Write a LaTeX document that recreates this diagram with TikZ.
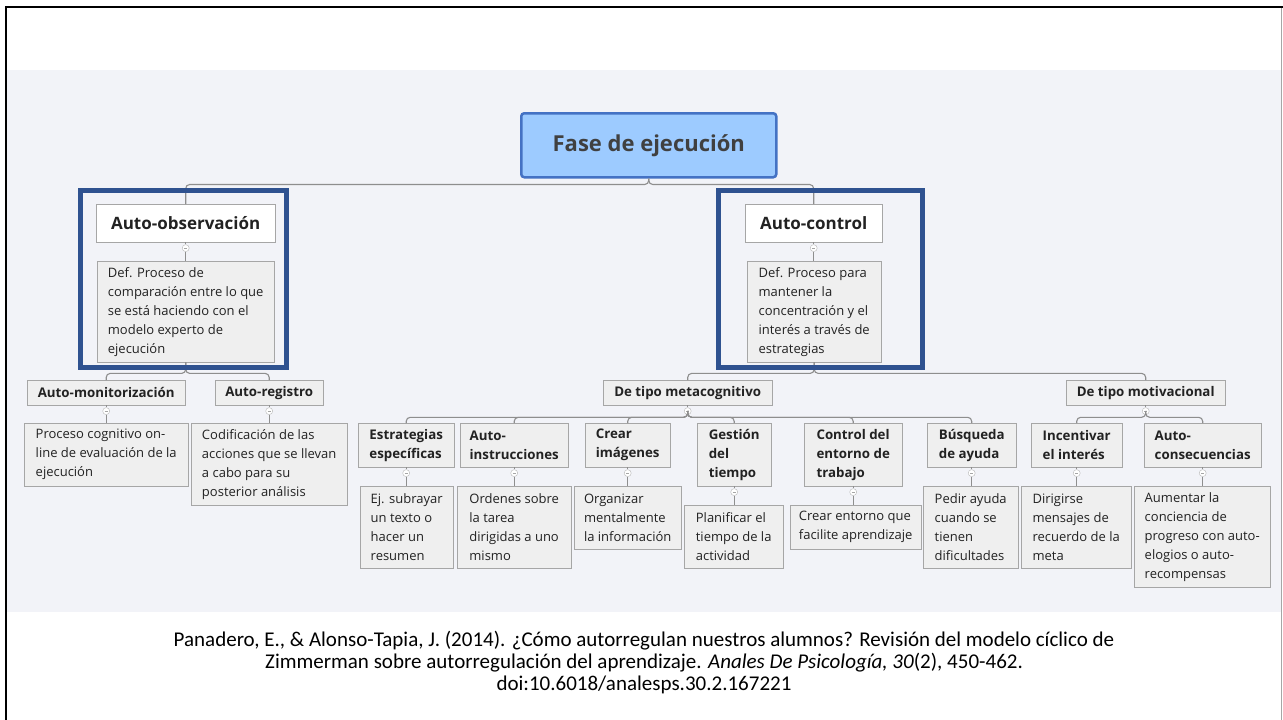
\documentclass[tikz,border=0pt]{standalone}
\usepackage{fontspec}
\setmainfont{Open Sans}
\newfontfamily\reffont{Carlito}
\usetikzlibrary{positioning}

\definecolor{bandgray}{HTML}{F2F3F8}
\definecolor{boxgray}{HTML}{A6A6A6}
\definecolor{boxfill}{HTML}{EFEFEF}
\definecolor{linegray}{HTML}{8E8E8E}
\definecolor{rootfill}{HTML}{9DCBFF}
\definecolor{rootblue}{HTML}{4472C4}
\definecolor{rootink}{HTML}{404040}
\definecolor{markblue}{HTML}{2F5290}
\definecolor{inkgray}{HTML}{222222}

\newcommand{\rootfont}{\fontsize{22}{26}\selectfont\bfseries}
\newcommand{\topicfont}{\fontsize{17}{20}\selectfont\bfseries}
\newcommand{\headfont}{\fontsize{13.3}{19}\selectfont\bfseries}
\newcommand{\leaffont}{\fontsize{13}{19}\selectfont}

\tikzset{
  root/.style={draw=rootblue, line width=2.5pt, fill=rootfill, rounded corners=3pt,
    text=rootink, font=\rootfont, anchor=north west, minimum width=255pt, minimum height=64pt},
  topic/.style={draw=boxgray, fill=white, text=inkgray, font=\topicfont,
    anchor=north west, minimum height=38pt, inner sep=0pt},
  head/.style={draw=boxgray, fill=boxfill, text=inkgray, font=\headfont,
    anchor=north west, minimum height=25pt, inner sep=0pt},
  sub/.style={head, align=left},
  leaf/.style={draw=boxgray, fill=boxfill, text=inkgray, font=\leaffont,
    anchor=north west, align=left, inner sep=0pt},
  knob/.style={circle, draw=boxgray!80, fill=white, inner sep=0pt, minimum size=7pt,
    path picture={\draw[boxgray, line width=0.6pt]
      ([xshift=-1.6pt]path picture bounding box.center) --
      ([xshift=1.6pt]path picture bounding box.center);}},
  conn/.style={draw=linegray, line width=1.1pt, rounded corners=4pt},
  hilite/.style={draw=markblue, line width=5pt}
}

\begin{document}
\begin{tikzpicture}[x=1pt, y=-1pt]
\useasboundingbox (0,0) rectangle (1283,720);
\fill[white] (0,0) rectangle (1283,720);
\fill[bandgray] (7,70) rectangle (1281,612);
\draw[line width=2.4pt] (5.8,720) -- (5.8,6.9) -- (1283,6.9);
\draw[gray!70, line width=1pt] (1281.5,8) -- (1281.5,720);

\node[root] (root) at (520,112) {Fase de ejecución};

% Auto-observacion
\node[topic, minimum width=179pt] (aobs) at (96,204) {Auto-observación};
\node[knob, below=2pt of aobs] (kaobs) {};
\node[leaf, minimum width=177pt, minimum height=101pt] (defobs) at (97,261) {Def. Proceso de\\comparación entre lo que\\se está haciendo con el\\modelo experto de\\ejecución};

\node[head, minimum width=158pt] (amon) at (27,380) {Auto-monitorización};
\node[head, minimum width=108pt] (areg) at (215,380) {Auto-registro};
\node[knob, below=2pt of amon] (kamon) {};
\node[knob, below=2pt of areg] (kareg) {};
\node[leaf, minimum width=164pt, minimum height=63pt] (procog) at (24,423) {Proceso cognitivo on-\\line de evaluación de la\\ejecución};
\node[leaf, minimum width=156pt, minimum height=82pt] (codif) at (191,423) {Codificación de las\\acciones que se llevan\\a cabo para su\\posterior análisis};

% Auto-control
\node[topic, minimum width=137pt] (actl) at (745,204) {Auto-control};
\node[knob, below=2pt of actl] (kactl) {};
\node[leaf, minimum width=134pt, minimum height=101pt] (defctl) at (747,261) {Def. Proceso para\\mantener la\\concentración y el\\interés a través de\\estrategias};

\node[head, minimum width=169pt] (meta) at (603,380) {De tipo metacognitivo};
\node[head, minimum width=159pt] (motiv) at (1066,380) {De tipo motivacional};
\node[knob, below=2pt of meta] (kmeta) {};
\node[knob, below=2pt of motiv] (kmotiv) {};

\node[sub, minimum width=96pt, minimum height=44pt] (estr) at (358,423) {Estrategias\\específicas};
\node[sub, minimum width=108pt, minimum height=44pt] (ainst) at (460,423) {Auto-\\instrucciones};
\node[sub, minimum width=85pt, minimum height=44pt] (cimg) at (585,423) {Crear\\imágenes};
\node[sub, minimum width=74pt, minimum height=63pt] (gtie) at (697,423) {Gestión\\del\\tiempo};
\node[sub, minimum width=98pt, minimum height=63pt] (cent) at (804,423) {Control del\\entorno de\\trabajo};
\node[sub, minimum width=89pt, minimum height=44pt] (busq) at (927,423) {Búsqueda\\de ayuda};
\node[sub, minimum width=91pt, minimum height=44pt] (incv) at (1031,423) {Incentivar\\el interés};
\node[sub, minimum width=117pt, minimum height=44pt] (acon) at (1144,423) {Auto-\\consecuencias};

\node[knob, below=2pt of estr] (kestr) {};
\node[knob, below=2pt of ainst] (kainst) {};
\node[knob, below=2pt of cimg] (kcimg) {};
\node[knob, below=2pt of gtie] (kgtie) {};
\node[knob, below=2pt of cent] (kcent) {};
\node[knob, below=2pt of busq] (kbusq) {};
\node[knob, below=2pt of incv] (kincv) {};
\node[knob, below=2pt of acon] (kacon) {};

\node[leaf, minimum width=93pt, minimum height=82pt] (ejsub) at (360,486) {Ej. subrayar\\un texto o\\hacer un\\resumen};
\node[leaf, minimum width=114pt, minimum height=82pt] (orde) at (457,486) {Ordenes sobre\\la tarea\\dirigidas a uno\\mismo};
\node[leaf, minimum width=107pt, minimum height=63pt] (orga) at (574,486) {Organizar\\mentalmente\\la información};
\node[leaf, minimum width=99pt, minimum height=63pt] (plan) at (684,505) {Planificar el\\tiempo de la\\actividad};
\node[leaf, minimum width=131pt, minimum height=44pt] (crea) at (790,505) {Crear entorno que\\facilite aprendizaje};
\node[leaf, minimum width=95pt, minimum height=82pt] (pedi) at (923,486) {Pedir ayuda\\cuando se\\tienen\\dificultades};
\node[leaf, minimum width=110pt, minimum height=82pt] (diri) at (1021,486) {Dirigirse\\mensajes de\\recuerdo de la\\meta};
\node[leaf, minimum width=136pt, minimum height=101pt] (aume) at (1134,486) {Aumentar la\\conciencia de\\progreso con auto-\\elogios o auto-\\recompensas};

% connectors
\draw[conn] (root.south) -- ++(0,6) -| (aobs.north);
\draw[conn] (root.south) -- ++(0,6) -| (actl.north);
\draw[conn] (aobs) -- (kaobs) -- (kaobs |- defobs.north);
\draw[conn] (actl) -- (kactl) -- (kactl |- defctl.north);
\draw[conn] (defobs.south) -- ++(0,11) -| (amon.north);
\draw[conn] (defobs.south) -- ++(0,11) -| (areg.north);
\draw[conn] (amon) -- (kamon) -- (kamon |- procog.north);
\draw[conn] (areg) -- (kareg) -- (kareg |- codif.north);
\draw[conn] (defctl.south) -- ++(0,11) -| (meta.north);
\draw[conn] (defctl.south) -- ++(0,11) -| (motiv.north);
\draw[conn] (meta) -- (kmeta);
\draw[conn] (motiv) -- (kmotiv);
\draw[conn] (kmeta.south) -- ++(0,2.5) -| (estr.north);
\draw[conn] (kmeta.south) -- ++(0,2.5) -| (ainst.north);
\draw[conn] (kmeta.south) -- ++(0,2.5) -| (cimg.north);
\draw[conn] (kmeta.south) -- ++(0,2.5) -| (gtie.north);
\draw[conn] (kmeta.south) -- ++(0,2.5) -| (cent.north);
\draw[conn] (kmeta.south) -- ++(0,2.5) -| (busq.north);
\draw[conn] (kmotiv.south) -- ++(0,2.5) -| (incv.north);
\draw[conn] (kmotiv.south) -- ++(0,2.5) -| (acon.north);
\draw[conn] (estr) -- (kestr) -- (kestr |- ejsub.north);
\draw[conn] (ainst) -- (kainst) -- (kainst |- orde.north);
\draw[conn] (cimg) -- (kcimg) -- (kcimg |- orga.north);
\draw[conn] (gtie) -- (kgtie) -- (kgtie |- plan.north);
\draw[conn] (cent) -- (kcent) -- (kcent |- crea.north);
\draw[conn] (busq) -- (kbusq) -- (kbusq |- pedi.north);
\draw[conn] (incv) -- (kincv) -- (kincv |- diri.north);
\draw[conn] (acon) -- (kacon) -- (kacon |- aume.north);

% highlight frames
\draw[hilite] (80.5,190.5) rectangle (286.5,367.5);
\draw[hilite] (718.5,190.5) rectangle (922.5,367.5);

\node[font=\reffont\fontsize{21}{22}\selectfont, align=center, text=black] (cite) at (644,663) {Panadero, E., \& Alonso-Tapia, J. (2014). ¿Cómo autorregulan nuestros alumnos? Revisión del modelo cíclico de\\Zimmerman sobre autorregulación del aprendizaje. \textit{Anales De Psicología, 30}(2), 450-462.\\doi:10.6018/analesps.30.2.167221};
\end{tikzpicture}
\end{document}
